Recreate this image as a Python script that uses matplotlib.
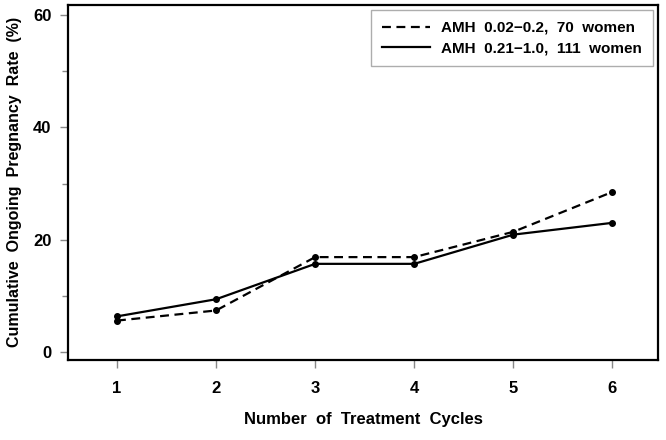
import matplotlib
matplotlib.use("Agg")
import matplotlib.pyplot as plt
from matplotlib.ticker import MultipleLocator

plt.rcParams['font.family'] = ['Liberation Sans', 'DejaVu Sans']
plt.rcParams['font.weight'] = 'bold'

cycles = [1, 2, 3, 4, 5, 6]
low_amh = [5.6, 7.4, 16.9, 16.9, 21.4, 28.5]
high_amh = [6.35, 9.4, 15.7, 15.7, 20.9, 23.0]
label_low = "AMH  0.02\u22120.2,  70  women"
label_high = "AMH  0.21\u22121.0,  111  women"

fig = plt.figure(figsize=(6.66, 4.40), dpi=100)
ax = fig.add_axes([0.102, 0.182, 0.886, 0.807])

ax.plot(cycles, low_amh, linestyle=(0, (4, 2.5)), color='black', lw=1.6,
        marker='o', ms=4, label=label_low)
ax.plot(cycles, high_amh, linestyle='-', color='black', lw=1.6,
        marker='o', ms=4, label=label_high)

ax.set_xlim(0.505, 6.46)
ax.set_ylim(-1.4, 61.8)
ax.set_xticks(cycles)
ax.yaxis.set_major_locator(MultipleLocator(20))
ax.yaxis.set_minor_locator(MultipleLocator(10))
ax.tick_params(axis='both', which='major', direction='out', length=6, width=1,
               color='#888888', labelsize=12, pad=9)
ax.tick_params(axis='y', which='major', pad=6)
ax.tick_params(axis='y', which='minor', direction='out', length=4, width=1, color='#888888')
for s in ax.spines.values():
    s.set_linewidth(1.6)

ax.set_xlabel("Number  of  Treatment  Cycles", fontsize=12, fontweight='bold', labelpad=12)
ax.set_ylabel("Cumulative  Ongoing  Pregnancy  Rate  (%)", fontsize=11.5, fontweight='bold', labelpad=8)

leg = ax.legend(loc='upper right', fontsize=11, frameon=True, fancybox=False,
                edgecolor='#999999', handlelength=3.2, borderpad=0.7,
                labelspacing=0.45, borderaxespad=0.35, handletextpad=0.7)
leg.get_frame().set_linewidth(1.0)
for h in leg.legend_handles:
    h.set_marker('')

fig.savefig("out.png", dpi=100)
